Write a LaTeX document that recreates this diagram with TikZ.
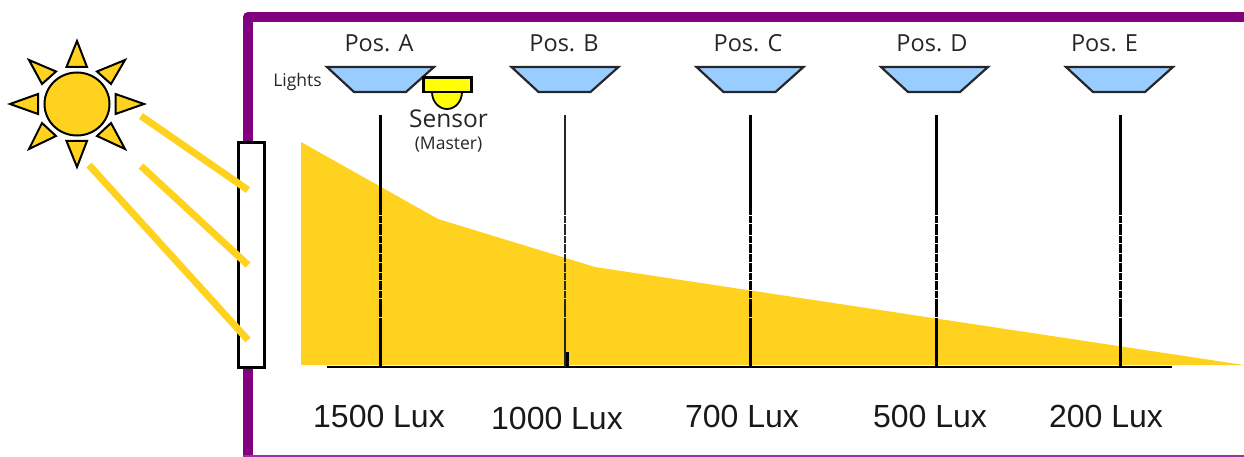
\documentclass[tikz,border=0pt]{standalone}
\usepackage{fontspec}
\setmainfont{Liberation Sans}
\newfontfamily\labelfont{Open Sans}
\definecolor{sunyellow}{HTML}{FFD21F}
\definecolor{framepurple}{HTML}{800080}
\definecolor{lampblue}{HTML}{99CCFF}
\definecolor{sensoryellow}{HTML}{FFFF00}
\tikzset{
  sunpart/.style={draw=black,line width=2pt,fill=sunyellow,line join=miter},
  ray/.style={draw=sunyellow,line width=7pt},
  lamp/.style={draw=black!85,line width=2.2pt,fill=lampblue,line join=miter},
  post/.style={draw=black,line width=3pt},
  thinpost/.style={draw=black!85,line width=2pt},
  gapped/.style={dash pattern=on 1pt off 1pt on 7pt off 1pt on 11pt off 1pt on 7pt off 1pt on 9pt off 1pt on 8pt off 1pt on 9pt off 1pt on 7pt off 1pt on 9pt off 1pt on 7pt off 1pt on 18pt off 1pt on 10pt},
  poslabel/.style={font=\labelfont\fontsize{23.5}{27}\selectfont,text=black!85,inner sep=0pt},
  smalllabel/.style={font=\labelfont\fontsize{17.5}{20}\selectfont,text=black!85,inner sep=0pt},
  luxlabel/.style={font=\fontsize{32}{37}\selectfont,text=black!90,inner sep=0pt},
}
\begin{document}
\begin{tikzpicture}[x=1pt,y=-1pt]
\useasboundingbox (0,0) rectangle (1244,457);
% room frame
\draw[framepurple,line width=10pt,line join=round] (248,457) -- (248,17) -- (1244,17);
\draw[framepurple!80,line width=2pt] (243,456) -- (1244,456);
% daylight profile
\fill[sunyellow] (301,142) -- (438,219) -- (595,267) -- (1244,365) -- (301,365) -- cycle;
% floor line
\coordinate (floorL) at (327,367);
\coordinate (floorR) at (1172,367);
\draw[black,line width=2.2pt] (floorL) -- (floorR);
% posts
\foreach \n/\x in {A/380,C/750.5,D/936,E/1120}{
  \coordinate (top\n) at (\x,115);
  \coordinate (midA\n) at (\x,214);
  \coordinate (midB\n) at (\x,320);
  \coordinate (foot\n) at (\x,367);
  \draw[post] (top\n) -- (midA\n);
  \draw[post,gapped] (midA\n) -- (midB\n);
  \draw[post] (midB\n) -- (foot\n);
}
\coordinate (topB) at (564.5,115);
\coordinate (midBa) at (564.5,214);
\coordinate (midBb) at (564.5,320);
\coordinate (footB) at (564.5,367);
\draw[thinpost] (topB) -- (midBa);
\draw[thinpost,gapped] (midBa) -- (midBb);
\draw[thinpost] (midBb) -- (footB);
\coordinate (stubT) at (567,352);
\coordinate (stubB) at (567,367);
\draw[post] (stubT) -- (stubB);
% lamps
\foreach \n/\x in {A/327,B/511.5,C/696.5,D/881,E/1066}{
  \draw[lamp] (\x,67) -- ++(107,0) -- ++(-28,25) -- ++(-52,0) -- cycle;
}
% sensor
\draw[black,line width=1.8pt,fill=sensoryellow] (432,92) arc[start angle=180,end angle=0,x radius=15,y radius=17] -- cycle;
\draw[black,line width=2.8pt,fill=sensoryellow] (423.5,77.5) rectangle (471.5,92);
% window and rays
\draw[black,line width=3pt,fill=white] (238.5,142.5) rectangle (264.5,367);
\draw[ray] (141,116) -- (248,190);
\draw[ray] (141,166) -- (248,265);
\draw[ray] (89,165) -- (248,340);
% sun
\draw[sunpart] (77,104) ellipse[x radius=32.5,y radius=31.5];
\draw[sunpart] (77,41) -- (87,67) -- (66.5,67) -- cycle;
\draw[sunpart] (77,167) -- (87,141) -- (66.5,141) -- cycle;
\draw[sunpart] (144,104) -- (115.5,94) -- (115.5,114) -- cycle;
\draw[sunpart] (10,104) -- (38,94) -- (38,114) -- cycle;
\draw[sunpart] (125,60) -- (97,71.5) -- (111,84) -- cycle;
\draw[sunpart] (125,149) -- (97,136) -- (111,123) -- cycle;
\draw[sunpart] (29,60) -- (56,71.5) -- (42,84) -- cycle;
\draw[sunpart] (29,149) -- (56,136) -- (42,123) -- cycle;
% labels
\node[poslabel] (posA) at (379,43) {Pos. A};
\node[poslabel] (posB) at (564,43) {Pos. B};
\node[poslabel] (posC) at (748,43) {Pos. C};
\node[poslabel] (posD) at (932,43) {Pos. D};
\node[poslabel] (posE) at (1104.5,43) {Pos. E};
\node[smalllabel] (lights) at (297.5,82) {Lights};
\node[poslabel,font=\labelfont\fontsize{24.5}{28}\selectfont] (sensor) at (448.5,118.5) {Sensor};
\node[smalllabel] (master) at (448.5,145) {(Master)};
\node[luxlabel] (l1) at (379,416) {1500 Lux};
\node[luxlabel] (l2) at (557,418) {1000 Lux};
\node[luxlabel] (l3) at (742,416) {700 Lux};
\node[luxlabel] (l4) at (930,416) {500 Lux};
\node[luxlabel] (l5) at (1106,416) {200 Lux};
\end{tikzpicture}
\end{document}
